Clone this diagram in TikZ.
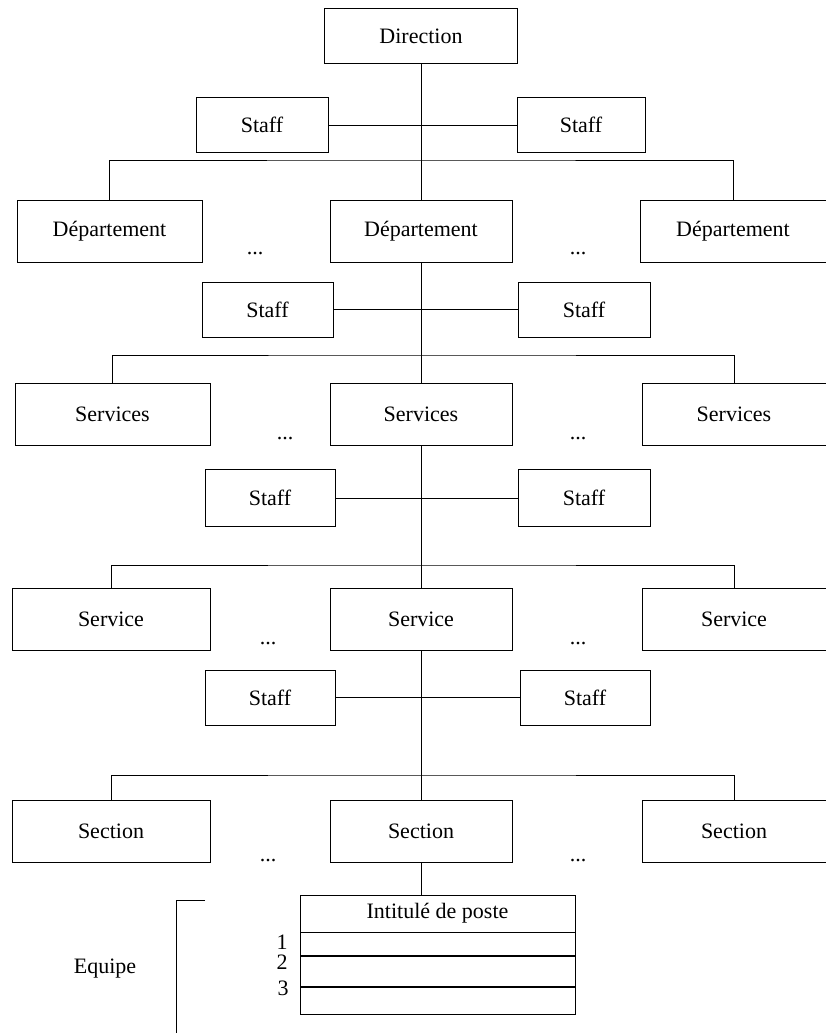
\documentclass[tikz,border=0pt]{standalone}
\usepackage{fontspec}
\setmainfont{Liberation Serif}
\usetikzlibrary{positioning,calc}

\begin{document}
\begin{tikzpicture}[x=1pt, y=-1pt, line width=0.8pt,
  txt/.style={font=\fontsize{22}{26}\selectfont},
  box/.style={draw, txt, minimum height=62pt},
  staffbox/.style={draw, txt, minimum height=55pt},
  rowbox/.style={draw, minimum width=275pt, inner sep=0pt}]
  \useasboundingbox (0,0) rectangle (826,1033);
  % top
  \node[draw, txt, minimum width=193pt, minimum height=55pt] (dir) at (421,36) {Direction};
  \node[staffbox, minimum width=132pt] (s1L) at (262,125) {Staff};
  \node[staffbox, minimum width=128pt] (s1R) at (581,125) {Staff};
  \coordinate (b1) at (421,160);
  % departements
  \node[box, minimum width=185pt] (dL) at (109.5,231) {Département};
  \node[box, minimum width=182pt] (dC) at (421,231) {Département};
  \node[box, minimum width=186pt] (dR) at (733,231) {Département};
  \node[txt] (dd1) at (255,254) {...};
  \node[txt] (dd2) at (578,254) {...};
  \node[staffbox, minimum width=131pt] (s2L) at (267.5,309.5) {Staff};
  \node[staffbox, minimum width=132pt] (s2R) at (584,309.5) {Staff};
  \coordinate (b2) at (421,355);
  % services
  \node[box, minimum width=195pt] (svL) at (112.5,414) {Services};
  \node[box, minimum width=182pt] (svC) at (421,414) {Services};
  \node[box, minimum width=184pt] (svR) at (734,414) {Services};
  \node[txt] (sd1) at (285,439) {...};
  \node[txt] (sd2) at (578,439) {...};
  \node[staffbox, minimum width=130pt, minimum height=57pt] (s3L) at (270,498) {Staff};
  \node[staffbox, minimum width=132pt, minimum height=57pt] (s3R) at (584,498) {Staff};
  \coordinate (b3) at (421,565);
  % service
  \node[box, minimum width=198pt] (seL) at (111,619) {Service};
  \node[box, minimum width=182pt] (seC) at (421,619) {Service};
  \node[box, minimum width=184pt] (seR) at (734,619) {Service};
  \node[txt] (ed1) at (268,644) {...};
  \node[txt] (ed2) at (578,644) {...};
  \node[staffbox, minimum width=130pt] (s4L) at (270,697.5) {Staff};
  \node[staffbox, minimum width=130pt] (s4R) at (585,697.5) {Staff};
  \coordinate (b4) at (421,775);
  % sections
  \node[box, minimum width=198pt] (scL) at (111,831) {Section};
  \node[box, minimum width=182pt] (scC) at (421,831) {Section};
  \node[box, minimum width=184pt] (scR) at (734,831) {Section};
  \node[txt] (cd1) at (268,861) {...};
  \node[txt] (cd2) at (578,861) {...};
  % poste
  \node[rowbox, txt, minimum height=37pt] (head) at (437.5,913.5) {Intitulé de poste};
  \node[rowbox, minimum height=23pt, below=0pt of head] (r1) {};
  \node[rowbox, minimum height=30pt, below=0pt of r1] (r2) {};
  \node[rowbox, minimum height=27pt, below=0pt of r2] (r3) {};
  \node[txt] (n1) at (282,942) {1};
  \node[txt] (n2) at (282,962) {2};
  \node[txt] (n3) at (283,988) {3};
  \node[txt] (eq) at (105,969) {Equipe};
  \coordinate (eqa) at (205,900);
  \coordinate (eqb) at (176,1033);
  \draw (eqa) -| (eqb);

  \draw (dir.south) -- (dC.north);
  \draw (dC.south) -- (svC.north);
  \draw (svC.south) -- (seC.north);
  \draw (seC.south) -- (scC.north);
  \draw (scC.south) -- (scC.south |- head.north);
  \draw (s1L.east) -- (s1R.west);
  \draw (s2L.east) -- (s2R.west);
  \draw (s3L.east) -- (s3R.west);
  \draw (s4L.east) -- (s4R.west);
  \draw (dL.north) |- (b1) -| (dR.north);
  \draw (svL.north) |- (b2) -| (svR.north);
  \draw (seL.north) |- (b3) -| (seR.north);
  \draw (scL.north) |- (b4) -| (scR.north);
\end{tikzpicture}
\end{document}
